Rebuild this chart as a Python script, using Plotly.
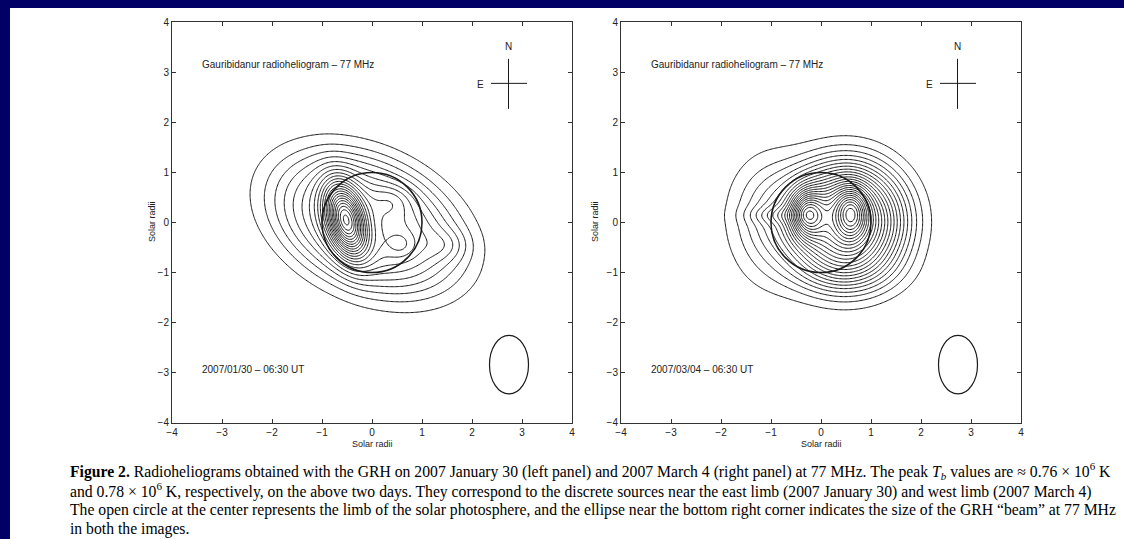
import numpy as np
import plotly.graph_objects as go

# ---- data: brightness components (solar radii) ----
# columns: centre x, centre y, amplitude, width x, width y, tilt (deg), profile exponent
# 2007/01/30 : broad tilted envelope + compact east-limb source + weak knots
jan_cx  = [-0.10, -0.52, 0.58, 0.42, 1.50]
jan_cy  = [-0.02, 0.05, -0.45, 0.45, -0.45]
jan_amp = [0.30, 0.52, 0.05, 0.05, 0.05]
jan_sx  = [1.52, 0.25, 0.20, 0.28, 0.30]
jan_sy  = [0.98, 0.50, 0.18, 0.22, 0.22]
jan_ang = [-25, 15, 0, 0, 0]
jan_p   = [3.0, 2.0, 2.0, 2.0, 2.0]

# 2007/03/04 : disk emission + two peaks + eastern extension, ridge, southern extension
mar_cx  = [0.50, 0.60, -0.28, -1.00, -0.90, 0.40]
mar_cy  = [0.02, 0.18, 0.18, 0.10, 0.15, -1.00]
mar_amp = [0.55, 0.25, 0.26, 0.12, 0.05, 0.06]
mar_sx  = [0.85, 0.22, 0.22, 0.55, 0.40, 0.80]
mar_sy  = [0.85, 0.35, 0.32, 0.78, 0.12, 0.35]
mar_ang = [0, 0, 0, 0, 0, 0]
mar_p   = [2.5, 2.0, 2.0, 2.0, 2.0, 2.0]

levels_step = [0.035, 0.031]   # contour interval, left and right panel

axis_ticks = [-4, -3, -2, -1, 0, 1, 2, 3, 4]
panel_title = "Gauribidanur radioheliogram \u2013 77 MHz"
panel_dates = ["2007/01/30 \u2013 06:30 UT", "2007/03/04 \u2013 06:30 UT"]
limb_radius = 1.0
beam_center = (2.74, -2.84)
beam_semi = (0.39, 0.585)

caption = [
    "<b>Figure 2.</b> Radioheliograms obtained with the GRH on 2007 January 30 (left panel) and 2007 March 4 (right panel) at 77 MHz. The peak <i>T<sub>b</sub></i> values are \u2248 0.76 \u00d7 10<sup>6</sup> K",
    "and 0.78 \u00d7 10<sup>6</sup> K, respectively, on the above two days. They correspond to the discrete sources near the east limb (2007 January 30) and west limb (2007 March 4)",
    "The open circle at the center represents the limb of the solar photosphere, and the ellipse near the bottom right corner indicates the size of the GRH \u201cbeam\u201d at 77 MHz",
    "in both the images.",
]

# ---- build maps ----
g = np.linspace(-3.5, 3.5, 281)
X, Y = np.meshgrid(g, g)


def brightness(cx, cy, amp, sx, sy, ang, pw):
    z = np.zeros_like(X)
    for x0, y0, a, s1, s2, t, p in zip(cx, cy, amp, sx, sy, ang, pw):
        th = np.deg2rad(t)
        u = (X - x0) * np.cos(th) + (Y - y0) * np.sin(th)
        v = -(X - x0) * np.sin(th) + (Y - y0) * np.cos(th)
        r2 = (u / s1) ** 2 + (v / s2) ** 2
        z += a * np.exp(-0.5 * r2 ** (p / 2.0))
    return z


maps = [brightness(jan_cx, jan_cy, jan_amp, jan_sx, jan_sy, jan_ang, jan_p),
        brightness(mar_cx, mar_cy, mar_amp, mar_sx, mar_sy, mar_ang, mar_p)]

W, H = 1124, 539
fig = go.Figure()
axes = [("x", "y"), ("x2", "y2")]
for (xa, ya), z, step in zip(axes, maps, levels_step):
    fig.add_trace(go.Contour(
        x=g, y=g, z=z, xaxis=xa, yaxis=ya,
        contours=dict(start=step, end=float(z.max()), size=step, coloring="none"),
        line=dict(color="#1a1a1a", width=1, smoothing=1),
        showscale=False, hoverinfo="skip",
    ))

tick_font = dict(family="Liberation Sans, Arial, sans-serif", size=10, color="#222")
ax_common = dict(range=[-4, 4], tickvals=axis_ticks, showgrid=False, zeroline=False,
                 showline=True, mirror="ticks", linecolor="#333", linewidth=1,
                 ticks="inside", ticklen=4, tickcolor="#333", tickfont=tick_font,
                 automargin=False)

y_dom = [1 - 422.7 / H, 1 - 22.3 / H]
fig.update_layout(
    width=W, height=H, margin=dict(l=0, r=0, t=0, b=0, pad=0, autoexpand=False),
    paper_bgcolor="#000066", plot_bgcolor="white", showlegend=False,
    xaxis=dict(domain=[172 / W, 572 / W], anchor="y", **ax_common),
    yaxis=dict(domain=y_dom, anchor="x", **ax_common),
    xaxis2=dict(domain=[621 / W, 1021 / W], anchor="y2", **ax_common),
    yaxis2=dict(domain=y_dom, anchor="x2", **ax_common),
)

shapes = [dict(type="rect", xref="paper", yref="paper", x0=10 / W, x1=1.02, y0=-0.03, y1=1 - 8 / H,
               fillcolor="white", line=dict(width=0), layer="below")]
annotations = []
small = dict(family="Liberation Sans, Arial, sans-serif", size=10, color="#222")
for i, (xa, ya) in enumerate(axes):
    shapes.append(dict(type="circle", xref=xa, yref=ya, x0=-limb_radius, x1=limb_radius,
                       y0=-limb_radius, y1=limb_radius, line=dict(color="#1a1a1a", width=1.6)))
    shapes.append(dict(type="circle", xref=xa, yref=ya,
                       x0=beam_center[0] - beam_semi[0], x1=beam_center[0] + beam_semi[0],
                       y0=beam_center[1] - beam_semi[1], y1=beam_center[1] + beam_semi[1],
                       line=dict(color="#1a1a1a", width=1.2)))
    shapes.append(dict(type="line", xref=xa, yref=ya, x0=2.38, x1=3.10, y0=2.78, y1=2.78,
                       line=dict(color="#1a1a1a", width=1)))
    shapes.append(dict(type="line", xref=xa, yref=ya, x0=2.73, x1=2.73, y0=2.27, y1=3.27,
                       line=dict(color="#1a1a1a", width=1)))
    annotations.append(dict(xref=xa, yref=ya, x=2.73, y=3.52, text="N", showarrow=False, font=small))
    annotations.append(dict(xref=xa, yref=ya, x=2.17, y=2.75, text="E", showarrow=False, font=small))
    annotations.append(dict(xref=xa, yref=ya, x=-3.45, y=3.15, text=panel_title, showarrow=False,
                            xanchor="left", font=small))
    annotations.append(dict(xref=xa, yref=ya, x=-3.45, y=-2.93, text=panel_dates[i], showarrow=False,
                            xanchor="left", font=small))
    annotations.append(dict(xref=xa + " domain", yref="paper", x=0.5, y=1 - 444 / H, text="Solar radii",
                            showarrow=False, yanchor="middle", font=dict(small, size=9)))

for xp in (145, 595):
    annotations.append(dict(xref="paper", yref="paper", x=xp / W, y=1 - 222 / H, text="Solar radii",
                            showarrow=False, textangle=-90, font=dict(small, size=9)))

for k, line in enumerate(caption):
    annotations.append(dict(xref="paper", yref="paper", x=68 / W, y=1 - (471 + 19.3 * k) / H,
                            xanchor="left", yanchor="middle", text=line, showarrow=False,
                            font=dict(family="Liberation Serif, Times New Roman, serif", size=15.7, color="black")))

fig.update_layout(shapes=shapes, annotations=annotations)
fig.write_html("out.html")
